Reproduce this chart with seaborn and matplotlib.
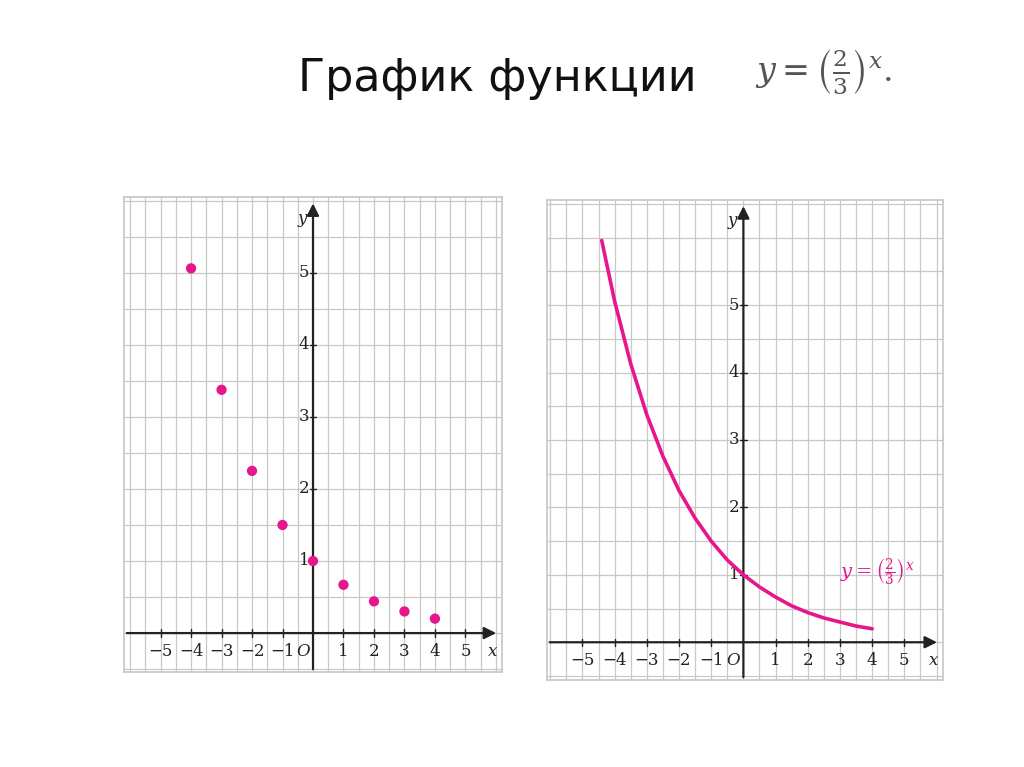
import matplotlib
matplotlib.use("Agg")
import matplotlib.pyplot as plt
import seaborn as sns
import numpy as np

sns.set_theme(style="white")
plt.rcParams['font.family'] = ['DejaVu Sans']
plt.rcParams['mathtext.fontset'] = 'dejavuserif'

# points of y = (2/3)^x
pt_x = [-4, -3, -2, -1, 0, 1, 2, 3, 4]
pt_y = [5.06, 3.375, 2.25, 1.5, 1.0, 0.67, 0.44, 0.30, 0.20]

# curve
cv_x = [-4.4, -4.0, -3.5, -3.0, -2.5, -2.0, -1.5, -1.0, -0.5, 0.0,
        0.5, 1.0, 1.5, 2.0, 2.5, 3.0, 3.5, 4.0]
cv_y = [5.96, 5.06, 4.13, 3.375, 2.76, 2.25, 1.84, 1.5, 1.22, 1.0,
        0.82, 0.67, 0.54, 0.44, 0.36, 0.30, 0.24, 0.20]

x_ticks = [-5, -4, -3, -2, -1, 1, 2, 3, 4, 5]
y_ticks = [1, 2, 3, 4, 5]
pink = '#e8168c'

W, H = 1024, 767
fig = plt.figure(figsize=(W / 100, H / 100), dpi=100)
fig.patch.set_facecolor('white')


def pane(px0, py0, px1, py1, xlim, ylim):
    ax = fig.add_axes([px0 / W, 1 - py1 / H, (px1 - px0) / W, (py1 - py0) / H])
    ax.set_xlim(*xlim)
    ax.set_ylim(*ylim)
    for g in np.arange(np.ceil(xlim[0] * 2) / 2, xlim[1], 0.5):
        ax.axvline(g, color='#c8c8c8', lw=0.9, zorder=0)
    for g in np.arange(np.ceil(ylim[0] * 2) / 2, ylim[1], 0.5):
        ax.axhline(g, color='#c8c8c8', lw=0.9, zorder=0)
    for s in ax.spines.values():
        s.set_color('#c8c8c8')
    ax.set_xticks([])
    ax.set_yticks([])
    ax.set_xlabel('')
    ax.set_ylabel('')
    ax.annotate('', xy=(xlim[1] - 0.1, 0), xytext=(xlim[0], 0),
                arrowprops=dict(arrowstyle='-|>', color='#222', lw=1.6, mutation_scale=18))
    ax.annotate('', xy=(0, ylim[1] - 0.05), xytext=(0, ylim[0]),
                arrowprops=dict(arrowstyle='-|>', color='#222', lw=1.6, mutation_scale=18))
    f = dict(family='DejaVu Serif', fontsize=12, color='#222')
    for t in x_ticks:
        ax.plot([t, t], [-0.05, 0.05], color='#222', lw=1)
        ax.text(t, -0.14, '\u2212' + str(-t) if t < 0 else str(t), ha='center', va='top', **f)
    for t in y_ticks:
        ax.plot([-0.1, 0.1], [t, t], color='#222', lw=1)
        ax.text(-0.12, t, str(t), ha='right', va='center', **f)
    ax.text(-0.1, -0.14, 'O', ha='right', va='top', style='italic', **f)
    ax.text(xlim[1] - 0.3, -0.14, 'x', ha='center', va='top', style='italic', **f)
    ax.text(-0.2, ylim[1] - 0.3, 'y', ha='right', va='center', style='italic', **f)
    return ax


ax1 = pane(124, 197, 502, 672, (-6.2, 6.2), (-0.54, 6.05))
sns.scatterplot(x=pt_x, y=pt_y, ax=ax1, color=pink, s=55, edgecolor='none', zorder=5)

ax2 = pane(547, 200, 943, 680, (-6.1, 6.2), (-0.56, 6.56))
sns.lineplot(x=cv_x, y=cv_y, ax=ax2, color=pink, lw=2.6, zorder=5)
ax2.text(3.0, 0.95, r'$y=\left(\frac{2}{3}\right)^x$', color=pink, fontsize=14)

fig.text(298 / W, 1 - 78 / H, 'График функции', fontsize=32, va='center', ha='left', color='#111')
fig.text(755 / W, 1 - 72 / H, r'$y=\left(\frac{2}{3}\right)^x.$', fontsize=24,
         va='center', ha='left', color='#555')

fig.savefig('out.png', dpi=100)
